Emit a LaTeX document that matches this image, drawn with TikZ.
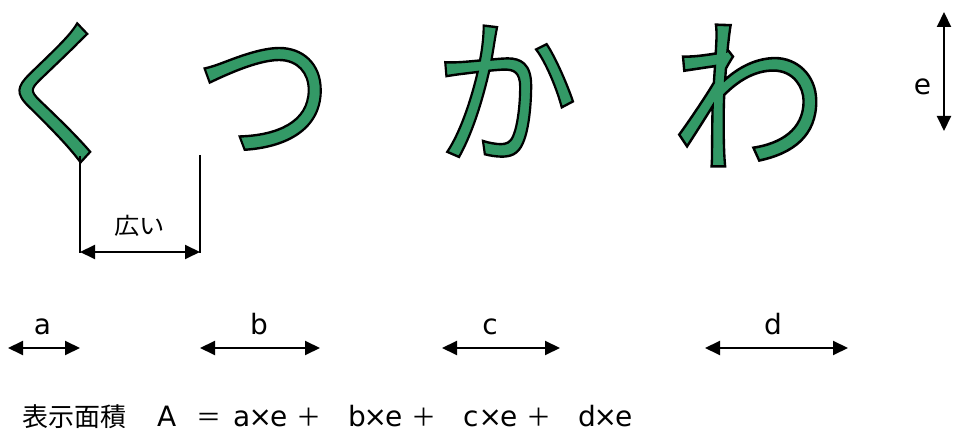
\documentclass[tikz,border=0pt]{standalone}
\usepackage{fontspec}
\setmainfont{Noto Sans CJK JP}
\newfontfamily\kanafont[FakeBold=1.5]{Noto Sans CJK JP}
\newfontfamily\kanainner{Noto Sans CJK JP}
\newfontfamily\lat{DejaVu Sans}
\usetikzlibrary{arrows.meta}
\definecolor{kanagreen}{RGB}{51,153,102}
% fill green, stroke black (text rendering mode 2 from FakeBold)
\newcommand{\outl}[3]{\scalebox{#1}[#2]{\special{pdf:bcolor [0.2 0.6 0.4] [0 0 0]}#3\special{pdf:ecolor}}}
\newcommand{\term}[1]{\makebox[19pt][l]{#1}\makebox[18pt][l]{\hspace{-3.5pt}×}\makebox[26pt][l]{e}}
\newcommand{\plusbox}{\makebox[52pt][l]{\kanainner\fontsize{25}{25}\selectfont ＋}}
\tikzset{
  kana/.style={inner sep=0pt, anchor=base, font=\kanafont\fontsize{160}{160}\selectfont},
  lbl/.style={inner sep=0pt, anchor=base, font=\lat\fontsize{28}{28}\selectfont},
  dim/.style={line width=2pt, {Triangle[length=15pt,width=14pt]}-{Triangle[length=15pt,width=14pt]}},
  guide/.style={line width=2pt}
}
\begin{document}
\begin{tikzpicture}[x=1pt,y=-1pt]
\useasboundingbox (0,0) rectangle (954,435);
\node[kana] (ku) at (59.5,152) {\outl{0.85}{1}{く}};
\node[kana] (tsu) at (264,152) {\outl{0.87}{1}{つ}};
\node[kana] (ka) at (506,152) {\outl{0.9}{1}{か}};
\node[kana] (wa) at (749,160) {\outl{0.98}{1.065}{わ}};
% e dimension
\coordinate (et) at (944,12);
\coordinate (eb) at (944,131);
\draw[dim] (et) -- (eb);
\node[lbl] (e) at (922.5,95) {e};
% wide bracket
\coordinate (l1) at (80,156);
\coordinate (l2) at (80,253);
\coordinate (r1) at (200,155);
\coordinate (r2) at (200,253);
\draw[guide] (l1) -- (l2);
\draw[guide] (r1) -- (r2);
\coordinate (wl) at (80,252);
\coordinate (wr) at (200,252);
\draw[dim] (wl) -- (wr);
\node[inner sep=0pt, anchor=base] (hiroi) at (139.5,235) {\scalebox{1.1}[1]{\kanainner\fontsize{23}{23}\selectfont 広い}};
% bottom dims
\coordinate (a1) at (8,348); \coordinate (a2) at (80,348);
\draw[dim] (a1) -- (a2);
\node[lbl] (a) at (42.5,335) {a};
\coordinate (b1) at (200,348); \coordinate (b2) at (320,348);
\draw[dim] (b1) -- (b2);
\node[lbl] (b) at (259,335) {b};
\coordinate (c1) at (442,348); \coordinate (c2) at (560,348);
\draw[dim] (c1) -- (c2);
\node[lbl] (c) at (490,335) {c};
\coordinate (d1) at (705,348); \coordinate (d2) at (848,348);
\draw[dim] (d1) -- (d2);
\node[lbl] (d) at (773,335) {d};
% formula
\node[inner sep=0pt, anchor=base west, font=\lat\fontsize{28}{28}\selectfont] (formula) at (22,427)
 {{\kanainner\fontsize{26}{26}\selectfont 表示面積}\hspace{31pt}\makebox[39pt][l]{A}\makebox[37pt][l]{\kanainner\fontsize{25}{25}\selectfont ＝}\term{a}\plusbox\term{b}\plusbox\term{c}\plusbox\term{d}};
\end{tikzpicture}
\end{document}
